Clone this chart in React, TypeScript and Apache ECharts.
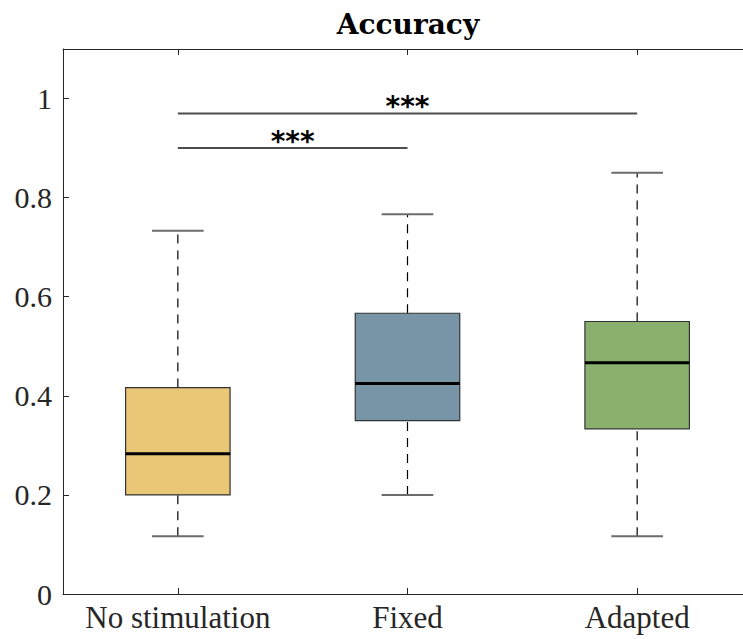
import React, { useEffect, useRef } from "react";
import * as echarts from "echarts";

const categories = ["No stimulation", "Fixed", "Adapted"];
const whiskerLow = [0.1167, 0.2, 0.1167];
const quartile1 = [0.2, 0.35, 0.3333];
const medians = [0.2833, 0.425, 0.4667];
const quartile3 = [0.4167, 0.5667, 0.55];
const whiskerHigh = [0.7333, 0.7667, 0.85];
const boxColors = ["#EAC677", "#7795A7", "#8AB06E"];

const sigFrom = [0, 0];
const sigTo = [1, 2];
const sigLevel = [0.9, 0.97];
const sigLabel = ["***", "***"];

const yTicks = [0, 0.2, 0.4, 0.6, 0.8, 1];

const SERIF = "'Liberation Serif', 'DejaVu Serif', serif";
const AXIS = "#262626";

export default function App() {
  const ref = useRef<HTMLDivElement>(null);
  useEffect(() => {
    if (!ref.current) return;
    const chart = echarts.init(ref.current, undefined, { renderer: "svg" });
    const boxData = categories.map((_, i) => [
      i,
      whiskerLow[i],
      quartile1[i],
      medians[i],
      quartile3[i],
      whiskerHigh[i],
    ]);
    const sigData = sigFrom.map((f, i) => [f, sigTo[i], sigLevel[i], sigLabel[i]]);

    chart.setOption({
      animation: false,
      graphic: [
        {
          type: "text",
          x: 408,
          y: 24,
          style: {
            text: "Accuracy",
            font: "bold 28px 'DejaVu Serif', serif",
            fill: "#000",
            textAlign: "center",
            textVerticalAlign: "middle",
          },
        },
      ],
      grid: { left: 63, top: 49, right: 9, bottom: 45 },
      xAxis: [
        {
          type: "category",
          data: categories,
          axisLine: { show: true, lineStyle: { color: AXIS, width: 1 } },
          axisTick: { show: true, inside: true, alignWithLabel: true, length: 6, lineStyle: { color: AXIS } },
          axisLabel: { color: "#262626", fontFamily: SERIF, fontSize: 31, margin: 8, interval: 0 },
          splitLine: { show: false },
        },
        {
          type: "category",
          data: categories,
          position: "top",
          axisLine: { show: true, lineStyle: { color: AXIS, width: 1 } },
          axisTick: { show: true, inside: true, alignWithLabel: true, length: 6, lineStyle: { color: AXIS } },
          axisLabel: { show: false },
          splitLine: { show: false },
        },
      ],
      yAxis: {
        type: "value",
        min: 0,
        max: 1.1,
        interval: 0.2,
        axisLine: { show: true, lineStyle: { color: AXIS, width: 1 } },
        axisTick: { show: true, inside: true, length: 6, lineStyle: { color: AXIS } },
        axisLabel: {
          color: "#262626",
          fontFamily: SERIF,
          fontSize: 30,
          margin: 11,
          formatter: (v: number) => {
            const t = yTicks.find((y) => Math.abs(y - v) < 1e-6);
            return t === undefined ? "" : String(t);
          },
        },
        splitLine: { show: false },
      },
      series: [
        {
          type: "custom",
          clip: false,
          data: boxData,
          encode: { x: 0, y: [1, 2, 3, 4, 5] },
          renderItem: (params: any, api: any) => {
            const i = api.value(0);
            const band = api.size([1, 0])[0];
            const bw = band * 0.455;
            const cw = band * 0.225;
            const pLow = api.coord([i, api.value(1)]);
            const pQ1 = api.coord([i, api.value(2)]);
            const pMed = api.coord([i, api.value(3)]);
            const pQ3 = api.coord([i, api.value(4)]);
            const pHigh = api.coord([i, api.value(5)]);
            const cx = pMed[0];
            const dash = { stroke: "#000", lineWidth: 1.2, lineDash: [9, 7] };
            const cap = { stroke: "#6b6b6b", lineWidth: 2 };
            return {
              type: "group",
              children: [
                { type: "line", shape: { x1: cx, y1: pQ3[1], x2: cx, y2: pHigh[1] }, style: dash },
                { type: "line", shape: { x1: cx, y1: pLow[1], x2: cx, y2: pQ1[1] }, style: dash },
                { type: "line", shape: { x1: cx - cw / 2, y1: pHigh[1], x2: cx + cw / 2, y2: pHigh[1] }, style: cap },
                { type: "line", shape: { x1: cx - cw / 2, y1: pLow[1], x2: cx + cw / 2, y2: pLow[1] }, style: cap },
                {
                  type: "rect",
                  shape: { x: cx - bw / 2, y: pQ3[1], width: bw, height: pQ1[1] - pQ3[1] },
                  style: { fill: boxColors[i], stroke: "#333", lineWidth: 1.2 },
                },
                { type: "line", shape: { x1: cx - bw / 2, y1: pMed[1], x2: cx + bw / 2, y2: pMed[1] }, style: { stroke: "#000", lineWidth: 3 } },
              ],
            };
          },
          z: 2,
        },
        {
          type: "custom",
          clip: false,
          data: sigData,
          encode: { x: [0, 1], y: 2 },
          renderItem: (params: any, api: any) => {
            const a = api.coord([api.value(0), api.value(2)]);
            const b = api.coord([api.value(1), api.value(2)]);
            const label = sigLabel[params.dataIndex];
            return {
              type: "group",
              children: [
                { type: "line", shape: { x1: a[0], y1: a[1], x2: b[0], y2: b[1] }, style: { stroke: "#4d4d4d", lineWidth: 2 } },
                {
                  type: "text",
                  x: (a[0] + b[0]) / 2,
                  y: a[1] + 7,
                  style: {
                    text: label,
                    font: "bold 28px 'DejaVu Sans', sans-serif",
                    fill: "#000",
                    textAlign: "center",
                    textVerticalAlign: "bottom",
                  },
                },
              ],
            };
          },
          z: 3,
        },
      ],
    });
    return () => chart.dispose();
  }, []);
  return (
    <div style={{ width: 743, height: 639, position: "absolute", left: 0, top: 0, overflow: "hidden" }}>
      <div ref={ref} style={{ width: 761, height: 639 }} />
    </div>
  );
}
